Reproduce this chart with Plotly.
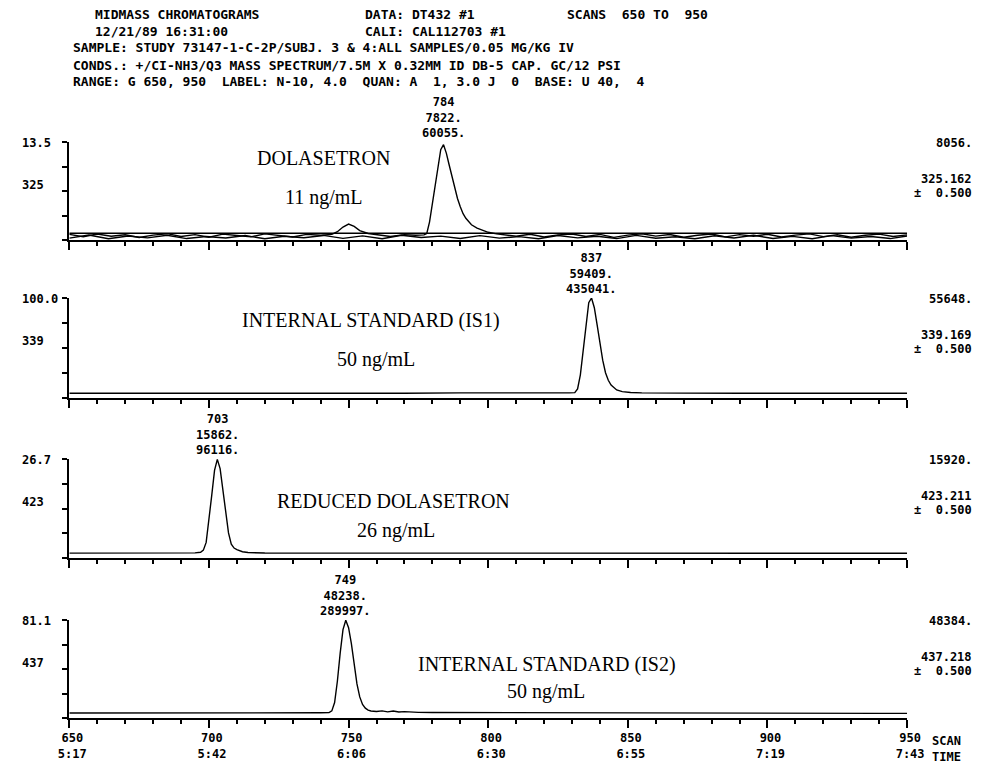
import plotly.graph_objects as go

W, H = 997, 764
MONO = "DejaVu Sans Mono"
SERIF = "Liberation Serif"

# ---------------- data ----------------
# Panel 1: m/z 325 (dolasetron), full scale 8056
scan1 = [650, 655, 660, 665, 670, 675, 680, 685, 690, 695, 700, 705, 710, 715, 720, 725, 730, 735, 740,
         744, 746, 748, 750, 752, 754, 757, 760, 765, 770, 774, 777, 778, 779, 780, 781, 782, 783, 784,
         785, 786, 787, 788, 789, 790, 791, 792, 794, 796, 798, 800, 803, 806, 810, 815, 820, 825, 830,
         835, 840, 845, 850, 855, 860, 865, 870, 875, 880, 885, 890, 895, 900, 905, 910, 915, 920, 925,
         930, 935, 940, 945, 950]
int1 = [120, -80, 150, -40, 90, -150, 60, 180, -60, 100, -120, 140, 30, -90, 160, 0, -100, 120, 40,
        120, 350, 750, 1000, 800, 450, 200, 80, -60, 100, 40, 80, 200, 1200, 2800, 4400, 6000, 7400, 7822,
        7100, 6100, 5100, 4100, 3200, 2500, 1900, 1500, 950, 650, 450, 300, 160, 60, -40, 130, -100, 80, 150,
        -60, 120, -140, 60, 170, -30, 110, -120, 40, 150, -90, 100, -40, 130, -110, 60, 160, -70, 90,
        -130, 50, 140, -60, 80]
# second noisy baseline trace in panel 1
scan1b = [650, 657, 664, 671, 678, 685, 692, 699, 706, 713, 720, 727, 734, 741, 748, 755, 762, 769, 776, 783,
          790, 797, 804, 811, 818, 825, 832, 839, 846, 853, 860, 867, 874, 881, 888, 895, 902, 909, 916, 923,
          930, 937, 944, 950]
int1b = [-200, 60, -250, -20, -180, 40, -240, -60, -190, 20, -260, -40, -170, 30, -220, -10, -250, 50, -150, -30,
         -230, 10, -200, -70, -260, 20, -180, -40, -240, 30, -210, -80, -250, 0, -190, 40, -230, -50, -260, 10,
         -200, -60, -240, -20]
scan1c = [650, 950]
int1c = [220, 220]

# Panel 2: m/z 339 (IS1), full scale 55648
scan2 = [650, 670, 690, 710, 730, 750, 770, 790, 800, 810, 815, 820, 826, 829, 831, 832, 833, 834, 835, 836,
         837, 838, 839, 840, 841, 842, 843, 844, 845, 846, 848, 851, 855, 860, 870, 890, 910, 930, 950]
int2 = [300, 250, 350, 300, 400, 350, 300, 450, 350, 300, 500, 400, 350, 450, 600, 2800, 11000, 25000, 41700, 52900,
        55648, 50000, 40000, 29000, 19500, 12200, 7800, 5000, 3400, 2200, 1200, 700, 500, 400, 350, 300, 350, 300, 250]

# Panel 3: m/z 423 (reduced dolasetron), full scale 15920
scan3 = [650, 665, 680, 690, 695, 697, 698, 699, 700, 701, 702, 703, 704, 705, 706, 707, 708, 709, 710, 711,
         712, 714, 717, 720, 740, 760, 780, 800, 820, 840, 860, 880, 900, 920, 940, 950]
int3 = [100, 120, 90, 110, 150, 250, 600, 1900, 5500, 9800, 14000, 15862, 14300, 10800, 6700, 3500, 1600, 950, 700, 480,
        330, 200, 140, 120, 110, 100, 120, 100, 90, 110, 100, 90, 100, 80, 90, 80]

# Panel 4: m/z 437 (IS2), full scale 48384
scan4 = [650, 670, 690, 710, 725, 735, 740, 743, 744, 745, 746, 747, 748, 749, 750, 751, 752, 753, 754, 755,
         756, 757, 758, 760, 762, 764, 766, 768, 770, 772, 775, 780, 790, 800, 820, 840, 860, 880, 900, 920, 940, 950]
int4 = [400, 350, 450, 400, 500, 450, 500, 600, 1500, 5800, 16900, 31400, 43400, 48238, 44400, 36200, 25100, 15400, 8700, 4800,
        2900, 1900, 1450, 1200, 1500, 1000, 1400, 900, 1100, 800, 700, 650, 600, 550, 500, 450, 400, 350, 300, 250, 200, 200]

full_scale = [8056, 55648, 15920, 48384]
full_scale_text = ["8056.", "55648.", "15920.", "48384."]
pct_labels = ["13.5", "100.0", "26.7", "81.1"]
mass_labels = ["325", "339", "423", "437"]
mass_exact = ["325.162", "339.169", "423.211", "437.218"]
mass_window = "±\u00a0\u00a00.500"
peak_scan = [784, 837, 703, 749]
peak_height = ["7822.", "59409.", "15862.", "48238."]
peak_area = ["60055.", "435041.", "96116.", "289997."]
compound = ["DOLASETRON", "INTERNAL STANDARD (IS1)", "REDUCED DOLASETRON", "INTERNAL STANDARD (IS2)"]
conc = ["11 ng/mL", "50 ng/mL", "26 ng/mL", "50 ng/mL"]

scan_ticks = [650, 700, 750, 800, 850, 900, 950]
time_ticks = ["5:17", "5:42", "6:06", "6:30", "6:55", "7:19", "7:43"]

header_left = [
    "MIDMASS CHROMATOGRAMS",
    "12/21/89 16:31:00",
    "SAMPLE: STUDY 73147-1-C-2P/SUBJ. 3 & 4:ALL SAMPLES/0.05 MG/KG IV",
    "CONDS.: +/CI-NH3/Q3 MASS SPECTRUM/7.5M X 0.32MM ID DB-5 CAP. GC/12 PSI",
    "RANGE: G 650, 950  LABEL: N-10, 4.0  QUAN: A  1, 3.0 J  0  BASE: U 40,  4",
]
header_mid = ["DATA: DT432 #1", "CALI: CAL112703 #1"]
header_right = "SCANS  650 TO  950"

# ---------------- layout geometry (pixels) ----------------
x_left, x_right = 60, 922
panel_top = [142, 298, 459, 620]
panel_bot = [240, 398, 558, 718]
label_pos = [  # (x center px, y px) for compound name and concentration
    ((322, 158), (322, 197)),
    ((370, 320), (376, 360)),
    ((394, 501), (396, 530)),
    ((552, 664), (550, 691)),
]


def nb(s):
    return s.replace(" ", "\u00a0")


def px(x):
    return x / W


def py(y):
    return 1 - y / H


fig = go.Figure()
series = [
    [(scan1b, int1b), (scan1c, int1c), (scan1, int1)],
    [(scan2, int2)],
    [(scan3, int3)],
    [(scan4, int4)],
]

BOLD_MONO = lambda s: dict(family=MONO, size=s, color="black", weight="bold")

annotations = []
layout = {}
for i in range(4):
    n = i + 1
    xa = "x" if n == 1 else f"x{n}"
    ya = "y" if n == 1 else f"y{n}"
    for sx, sy in series[i]:
        fig.add_trace(go.Scatter(x=sx, y=sy, mode="lines", xaxis=xa, yaxis=ya,
                                 line=dict(color="black", width=1.4), showlegend=False,
                                 hoverinfo="skip"))
    hi = full_scale[i]
    lo = -0.045 * hi
    yt = [lo + k * (hi - lo) / 4 for k in range(5)]
    last = (n == 4)
    xkey = "xaxis" if n == 1 else f"xaxis{n}"
    ykey = "yaxis" if n == 1 else f"yaxis{n}"
    layout[xkey] = dict(
        domain=[px(x_left), px(x_right)], anchor=ya, range=[650, 950],
        showline=True, linecolor="black", linewidth=2, showgrid=False, zeroline=False,
        ticks="outside", ticklen=8, tickwidth=2, tickcolor="black",
        tickvals=scan_ticks,
        ticktext=[f"{s}<br>{t}" for s, t in zip(scan_ticks, time_ticks)],
        showticklabels=last, ticklabelshift=3,
        tickfont=BOLD_MONO(12),
        minor=dict(dtick=10, tick0=650, ticks="outside", ticklen=4, tickwidth=1.5, tickcolor="black"),
        fixedrange=True,
    )
    layout[ykey] = dict(
        domain=[py(panel_bot[i]), py(panel_top[i])], anchor=xa, range=[lo, hi],
        showline=True, linecolor="black", linewidth=2, showgrid=False, zeroline=False,
        ticks="outside", ticklen=5, tickwidth=2, tickcolor="black",
        tickvals=yt, showticklabels=False,
        fixedrange=True,
    )
    T, B = panel_top[i], panel_bot[i]
    # left labels (full-scale percent and nominal mass), left aligned
    annotations.append(dict(x=px(9), y=py(T + 1), xref="paper", yref="paper", xanchor="left",
                            yanchor="middle", text=pct_labels[i], showarrow=False, font=BOLD_MONO(12)))
    annotations.append(dict(x=px(9), y=py(T + 43), xref="paper", yref="paper", xanchor="left",
                            yanchor="middle", text=mass_labels[i], showarrow=False, font=BOLD_MONO(12)))
    # peak annotation
    annotations.append(dict(
        x=peak_scan[i], y=1, xref=xa, yref=f"{ya} domain", xanchor="center", yanchor="bottom",
        text=f"{peak_scan[i]}<br>{peak_height[i]}<br>{peak_area[i]}", showarrow=False,
        font=BOLD_MONO(12), yshift=0,
    ))
    # right side labels
    annotations.append(dict(x=px(991), y=py(T + 1), xref="paper", yref="paper",
                            xanchor="right", yanchor="middle", text=full_scale_text[i], showarrow=False,
                            font=BOLD_MONO(12)))
    annotations.append(dict(x=px(991), y=py(T + 37), xref="paper", yref="paper",
                            xanchor="right", yanchor="middle", text=mass_exact[i], showarrow=False,
                            font=BOLD_MONO(12)))
    annotations.append(dict(x=px(991), y=py(T + 51), xref="paper", yref="paper",
                            xanchor="right", yanchor="middle", text=mass_window, showarrow=False,
                            font=BOLD_MONO(12)))
    # compound name and concentration
    (cx, cy), (kx, ky) = label_pos[i]
    annotations.append(dict(x=px(cx), y=py(cy), xref="paper", yref="paper", xanchor="center",
                            yanchor="middle", text=compound[i], showarrow=False,
                            font=dict(family=SERIF, size=20, color="black")))
    annotations.append(dict(x=px(kx), y=py(ky), xref="paper", yref="paper", xanchor="center",
                            yanchor="middle", text=conc[i], showarrow=False,
                            font=dict(family=SERIF, size=20, color="black")))

# header
head_y = [14, 31, 48, 65, 82]
head_x = [84, 84, 62, 62, 62]
for t, x, y in zip(header_left, head_x, head_y):
    annotations.append(dict(x=px(x), y=py(y), xref="paper", yref="paper", xanchor="left", yanchor="middle",
                            text=nb(t), showarrow=False, font=BOLD_MONO(13)))
for t, y in zip(header_mid, head_y[:2]):
    annotations.append(dict(x=px(362), y=py(y), xref="paper", yref="paper", xanchor="left", yanchor="middle",
                            text=nb(t), showarrow=False, font=BOLD_MONO(13)))
annotations.append(dict(x=px(570), y=py(head_y[0]), xref="paper", yref="paper", xanchor="left",
                        yanchor="middle", text=nb(header_right), showarrow=False, font=BOLD_MONO(13)))
# SCAN / TIME axis caption
annotations.append(dict(x=px(946), y=py(749), xref="paper", yref="paper", xanchor="left", yanchor="middle",
                        text="SCAN<br>TIME", showarrow=False, font=BOLD_MONO(12)))

fig.update_layout(
    width=W, height=H, margin=dict(l=0, r=0, t=0, b=0),
    paper_bgcolor="white", plot_bgcolor="white",
    annotations=annotations, showlegend=False,
    **layout,
)

fig.write_html("out.html")
